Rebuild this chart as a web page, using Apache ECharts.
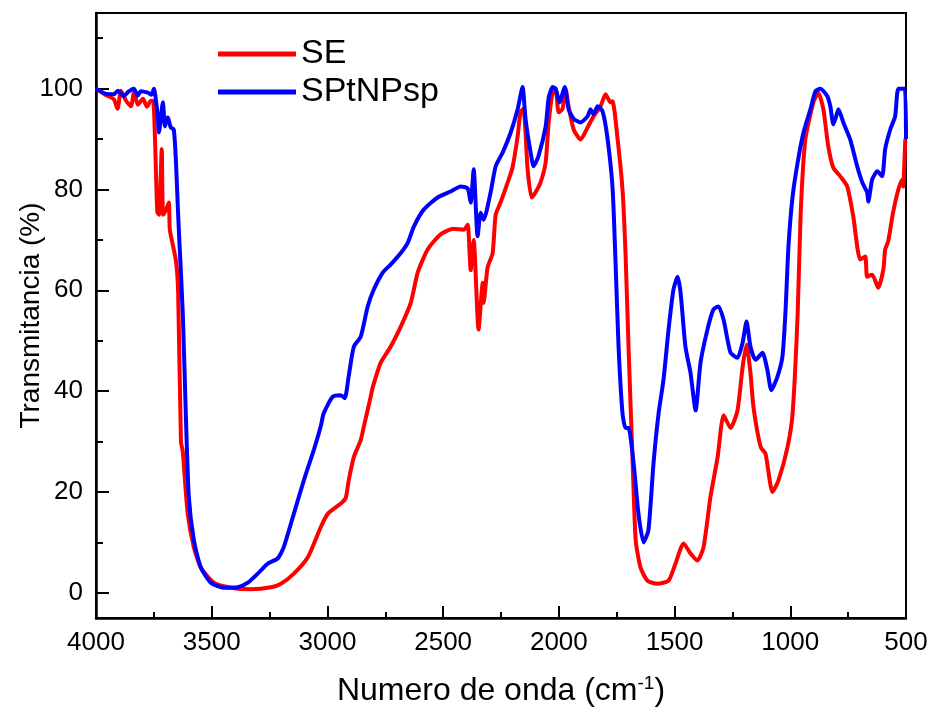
<!DOCTYPE html>
<html>
<head>
<meta charset="utf-8">
<script src="https://cdn.jsdelivr.net/npm/echarts@6/dist/echarts.min.js"></script>
<style>html,body{margin:0;padding:0;background:#fff}#c{width:930px;height:709px}</style>
</head>
<body>
<div id="c"></div>
<script>
// Series names
const seriesNames = ['SE', 'SPtNPsp'];

// SE (red) : wavenumber (cm-1) and transmittance (%)
const seWn = [4000,3960,3923,3907,3892,3870,3849,3836,3819,3797,3780,3763,3752,3745,3735,3727,3716,3710,3697,3685,3681,3655,3645,3633,3625,3604,3577,3547,3491,3417,3330,3244,3201,3145,3084,3029,2998,2942,2921,2908,2886,2856,2843,2813,2804,2770,2727,2683,2640,2610,2567,2511,2455,2411,2394,2381,2368,2347,2329,2325,2308,2286,2273,2252,2221,2200,2178,2166,2153,2135,2118,2101,2079,2057,2044,2027,2014,2001,1984,1971,1958,1936,1906,1876,1850,1820,1798,1777,1768,1746,1725,1712,1699,1681,1668,1647,1617,1574,1526,1496,1461,1431,1401,1375,1345,1314,1288,1258,1228,1206,1189,1172,1159,1128,1107,1077,1051,1012,990,968,955,935,900,879,857,836,814,784,754,728,698,676,668,646,620,598,590,577,556,533,516,512,503,500];
const seT  = [100,98.8,97.9,96,99.6,97.6,96.5,99.2,96.8,98,96.4,97.6,97.5,90,75.5,75,88,75,76,77.4,72,66,59.5,30,28,15.8,9,5,2,1,0.7,1.1,1.8,3.8,7.1,13,15.7,17.7,18.8,22.3,26.9,30.3,32.9,38.9,40.8,45.6,48.8,52.8,57.5,63.5,68.1,71.1,72.2,72,73,64,70,52.2,61.5,57.5,64.5,67.4,75,77.4,81.4,84.4,90.6,95.3,96,84,78.4,79.4,81.4,85.4,93.3,99.2,100,95.3,96,100,96.5,91.9,89.9,92.3,94.5,96.5,98.9,97.3,97.5,89.9,80,67.4,48.8,25.7,10.4,5,2.4,1.8,2.4,5.8,9.8,7.8,6.4,9,19,26.9,35.2,32.7,36.2,44.8,49.2,43.6,36.8,28.9,27.6,20,22.3,28.9,35.6,55.5,75.4,89.9,97.3,99.2,95.9,88.6,84.3,82.6,80.6,74.7,66.1,66.7,62.7,63.1,60.5,64.1,68.1,69.7,75.4,80,82,80.6,89.9,90];

// SPtNPsp (blue)
const spWn = [4000,3960,3923,3905,3880,3860,3836,3820,3806,3776,3760,3750,3733,3728,3711,3702,3690,3677,3664,3655,3646,3640,3625,3612,3599,3577,3547,3504,3448,3387,3344,3301,3258,3215,3189,3145,3102,3059,3029,3016,2977,2942,2925,2908,2886,2856,2826,2800,2761,2727,2683,2653,2627,2584,2524,2468,2424,2394,2381,2368,2351,2338,2325,2295,2273,2243,2208,2178,2157,2144,2122,2109,2088,2057,2044,2027,2014,1997,1975,1958,1936,1906,1876,1863,1850,1833,1811,1790,1768,1755,1742,1725,1712,1699,1677,1656,1634,1613,1591,1569,1548,1526,1505,1487,1474,1453,1431,1409,1388,1358,1332,1310,1288,1258,1228,1206,1189,1172,1150,1120,1099,1082,1056,1034,1021,1008,990,968,943,913,891,870,840,827,814,805,792,771,741,711,689,668,663,646,624,603,590,568,547,533,505,500];
const spT  = [100,99,98.9,99.6,98.5,99.4,100,98.6,99.5,99.2,98.8,100,94.5,91.3,97.3,92.5,94.3,92.3,91.9,86,76,70,55.5,35.6,19,10.4,5,2,1,1.1,2,3.8,5.8,6.8,9,15.7,22.3,28.3,33,35.6,38.9,39.2,38.6,43,48.8,50.8,56.8,60.1,63.5,65.1,67.4,69.4,72.6,76,78.4,79.6,80.6,80.2,77.4,84,70.7,75.4,74,79.4,84.6,87.3,91.3,95.9,100.3,94,87.3,84.6,86.6,92.5,98.2,100.3,100,97.3,100.3,95.9,94,93.3,94.5,95.9,94.9,96.5,95.5,90.2,80.3,65.5,48.8,35.6,32.7,32.7,25.7,15.7,10,12.4,25.7,35.6,42.2,52.2,60.1,62.7,59.5,48.8,43.6,36.2,45.6,52.2,56.2,56.8,54.1,47.6,46.6,49.6,53.8,48.8,46.2,47.6,44.2,40.2,42.8,46.8,55.5,68.6,78.6,85.4,91.3,95.9,99.5,100,98.5,96.5,92.9,94,95.9,93.3,89.9,84.6,81.4,79.4,77.6,82,83.6,82.6,88,91.9,94.5,100,100,90];

// Axis ticks
const xTicks = [4000, 3500, 3000, 2500, 2000, 1500, 1000, 500];
const yMajorTicks = [0, 20, 40, 60, 80, 100];
const yMinorTicks = [10, 30, 50, 70, 90, 110];

const pairs = (xs, ys) => xs.map((x, i) => [x, ys[i]]);

const FONT = 'Liberation Sans, Arial, sans-serif';
const chart = echarts.init(document.getElementById('c'), null, {renderer: 'canvas'});
chart.setOption({
  animation: false,
  backgroundColor: '#ffffff',
  grid: {left: 96, right: 24, top: 13, bottom: 91, containLabel: false, outerBoundsMode: 'none',
    show: true, borderColor: '#000', borderWidth: 2, backgroundColor: 'transparent'},
  legend: {
    left: 213, top: 32, orient: 'vertical', icon: 'rect', itemWidth: 78, itemHeight: 5, itemGap: 4,
    textStyle: {fontFamily: FONT, fontSize: 34, color: '#000'},
    data: seriesNames
  },
  xAxis: {
    type: 'value', min: 500, max: 4000, interval: 500, inverse: true,
    axisLine: {show: true, onZero: false, lineStyle: {color: '#000', width: 2.5}},
    axisTick: {show: true, inside: true, length: 12, lineStyle: {color: '#000', width: 2}},
    minorTick: {show: true, splitNumber: 2, length: 6, lineStyle: {color: '#000', width: 2}},
    splitLine: {show: false},
    axisLabel: {fontFamily: FONT, fontSize: 26, color: '#000', margin: 12,
      customValues: xTicks, formatter: v => String(v)},
    name: '{a|Numero de onda (cm}{b|-1}{a|)}',
    nameLocation: 'middle', nameGap: 56, nameMoveOverlap: false,
    nameTextStyle: {verticalAlign: 'top', rich: {
      a: {fontFamily: FONT, fontSize: 32, color: '#000'},
      b: {fontFamily: FONT, fontSize: 19, color: '#000', padding: [0, 0, 15, 0]}
    }}
  },
  yAxis: [{
    type: 'value', min: -5, max: 115,
    axisLine: {show: true, onZero: false, lineStyle: {color: '#000', width: 2.5}},
    axisTick: {show: true, inside: true, length: 13, customValues: yMajorTicks, lineStyle: {color: '#000', width: 2}},
    splitLine: {show: false},
    axisLabel: {fontFamily: FONT, fontSize: 26, color: '#000', margin: 13, customValues: yMajorTicks,
      formatter: v => String(v)},
    name: 'Transmitancia (%)', nameLocation: 'middle', nameGap: 51, nameMoveOverlap: false,
    nameTextStyle: {fontFamily: FONT, fontSize: 28, color: '#000'}
  }, {
    type: 'value', min: -5, max: 115, position: 'left', offset: 0,
    axisLine: {show: false},
    axisTick: {show: true, inside: true, length: 7, customValues: yMinorTicks, lineStyle: {color: '#000', width: 2}},
    axisLabel: {show: false},
    splitLine: {show: false}
  }],
  series: [{
    name: seriesNames[0], type: 'line', data: pairs(seWn, seT), showSymbol: false, smooth: 0.2,
    lineStyle: {color: '#ff0000', width: 4}, itemStyle: {color: '#ff0000'}, z: 2
  }, {
    name: seriesNames[1], type: 'line', data: pairs(spWn, spT), showSymbol: false, smooth: 0.2,
    lineStyle: {color: '#0000ff', width: 4}, itemStyle: {color: '#0000ff'}, z: 3
  }]
});
</script>
</body>
</html>
